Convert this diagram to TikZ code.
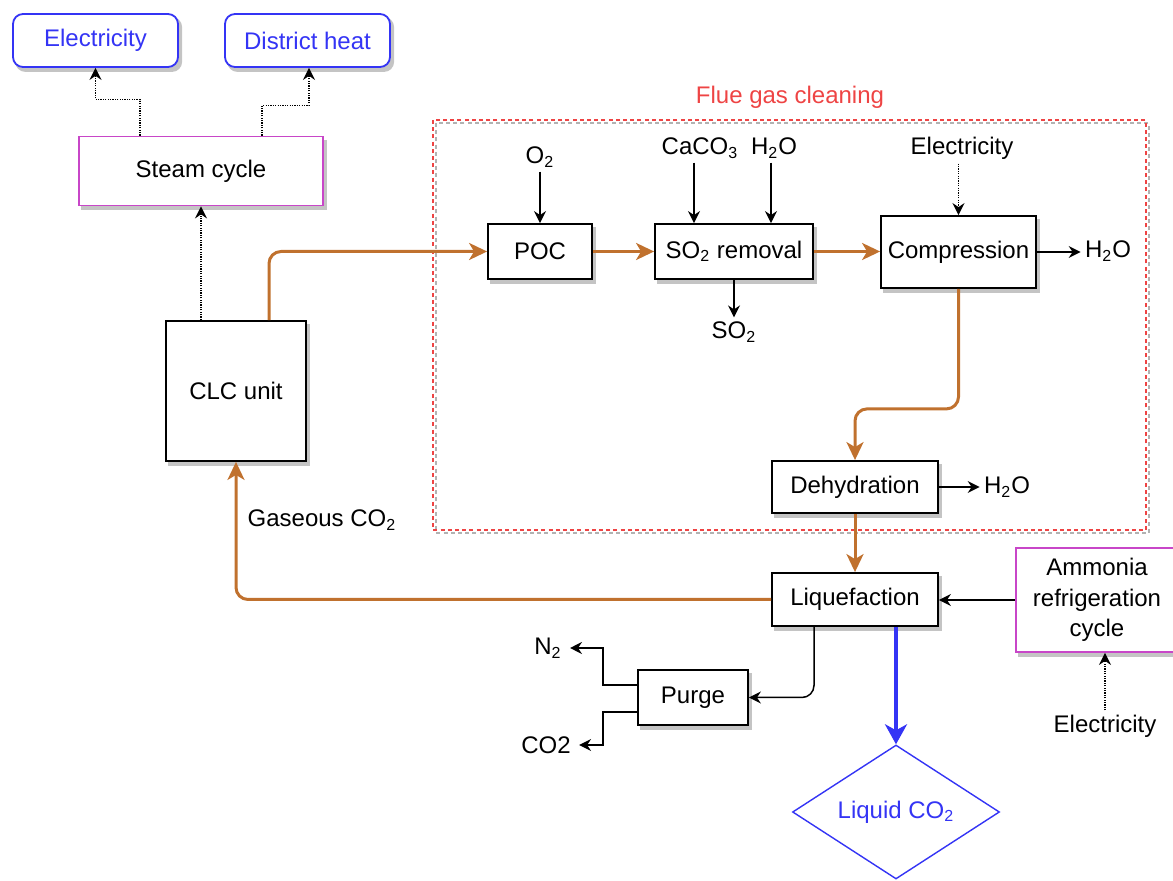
\documentclass[tikz,border=0pt]{standalone}
\usepackage{fontspec}
\setmainfont{Liberation Sans}
\usetikzlibrary{arrows.meta,shapes.geometric,backgrounds}

\definecolor{flowor}{HTML}{C0712E}
\definecolor{prodblue}{HTML}{3434F5}
\definecolor{utilmag}{HTML}{C846C8}
\definecolor{fgred}{HTML}{EE4444}
\definecolor{shadegrey}{HTML}{C4C4C4}

\begin{document}
\begin{tikzpicture}[x=0.5pt,y=-0.5pt,
  font=\fontsize{12}{15.25}\selectfont,
  unit/.style={draw=black,line width=0.9pt,fill=white,inner sep=0pt,align=center},
  utilbox/.style={unit,draw=utilmag},
  prodbox/.style={unit,draw=prodblue,text=prodblue,rounded corners=5pt},
  lbl/.style={inner sep=2pt,align=center},
  flow/.style={draw=flowor,line width=1.5pt,rounded corners=6pt,
    -{Stealth[length=9pt,width=8.5pt,inset=2.5pt]}},
  thin/.style={draw=black,line width=0.75pt,
    -{Stealth[length=6pt,width=6pt,inset=2pt]}},
  util/.style={thin,dash pattern=on 0.6pt off 0.6pt},
  product/.style={draw=prodblue,line width=2.4pt,
    -{Stealth[length=10pt,width=11pt,inset=3pt]}},
  shadowfill/.style={fill=shadegrey,draw=none}
]
\useasboundingbox (0,0) rectangle (1173,881);

% flue gas cleaning frame (grey offset outline under the red one)
\draw[black!30,line width=0.6pt,dash pattern=on 2pt off 1.6pt] (436,123) rectangle (1149,533);
\draw[fgred,line width=0.6pt,dash pattern=on 2pt off 1.6pt] (433,120) rectangle (1146,530);
\node[lbl,text=fgred] (fgc) at (790,97) {Flue gas cleaning};

% energy products
\node[prodbox,minimum width=82.5pt,minimum height=26.5pt] (elecout) at (95.5,40.5) {Electricity};
\node[prodbox,minimum width=82.5pt,minimum height=26.5pt] (heatout) at (307.5,40.5) {District heat};

% process units
\node[utilbox,minimum width=122pt,minimum height=34.5pt] (steam) at (201,171) {Steam cycle};
\node[unit,minimum width=70pt,minimum height=70pt] (clc) at (236,391) {CLC unit};
\node[unit,minimum width=52pt,minimum height=27.5pt] (poc) at (540,251.5) {POC};
\node[unit,minimum width=79pt,minimum height=27.5pt] (so2r) at (734,251.5) {SO\textsubscript{2} removal};
\node[unit,minimum width=77.5pt,minimum height=36pt] (comp) at (958.5,252) {Compression};
\node[unit,minimum width=83pt,minimum height=26pt] (dehy) at (855,487) {Dehydration};
\node[unit,minimum width=83pt,minimum height=26.5pt] (liq) at (855,599.5) {Liquefaction};
\node[unit,minimum width=55pt,minimum height=27.5pt] (purge) at (693,697.5) {Purge};
\node[utilbox,minimum width=81pt,minimum height=52pt] (ammonia) at (1097,600) {Ammonia\\refrigeration\\cycle};
\node[diamond,draw=prodblue,line width=0.7pt,fill=white,text=prodblue,inner sep=0pt,
  shape aspect=1.5,minimum width=103.5pt,minimum height=67pt] (liqco2) at (896,812) {Liquid CO\textsubscript{2}};

% box shadows, offset down and to the right
\begin{scope}[on background layer]
  \foreach \n in {steam,clc,poc,so2r,comp,dehy,liq,purge,ammonia}
    \fill[shadowfill] ([shift={(1.6pt,-2pt)}]\n.south west) rectangle ([shift={(1.6pt,-2pt)}]\n.north east);
  \foreach \n in {elecout,heatout}
    \fill[shadowfill,rounded corners=5pt] ([shift={(1.6pt,-2pt)}]\n.south west) rectangle ([shift={(1.6pt,-2pt)}]\n.north east);
\end{scope}

% stream labels
\node[lbl] (o2in) at (540,157) {O\textsubscript{2}};
\node[lbl] (caco3in) at (700,148) {CaCO\textsubscript{3}};
\node[lbl] (h2oin) at (774,148) {H\textsubscript{2}O};
\node[lbl] (eleccomp) at (962,148) {Electricity};
\node[lbl] (so2out) at (734,332) {SO\textsubscript{2}};
\node[lbl] (h2oa) at (1108,251) {H\textsubscript{2}O};
\node[lbl] (h2ob) at (1007,487) {H\textsubscript{2}O};
\node[lbl] (elecref) at (1105,726) {Electricity};
\node[lbl,inner sep=4pt] (n2out) at (548,648) {N\textsubscript{2}};
\node[lbl,inner sep=4pt] (co2out) at (546,745) {CO2};
\node[lbl] (gasco2) at (322,520) {Gaseous CO\textsubscript{2}};

% steam cycle outputs
\draw[util] ([xshift=-30.5pt]steam.north) -- ++(0,-36) -| (elecout.south);
\draw[util] ([xshift=30.5pt]steam.north) -- ++(0,-30) -| ([xshift=0.75pt]heatout.south);
\draw[util] (steam.south |- clc.north) -- (steam.south);

% main flue gas line
\draw[flow] ([xshift=16.5pt]clc.north) |- (poc.west);
\draw[flow] (poc.east) -- (so2r.west);
\draw[flow] (so2r.east) -- (so2r.east -| comp.west);
\draw[flow] (comp.south) -- ++(0,120) -| (dehy.north);
\draw[flow] (dehy.south) -- (liq.north);
\draw[flow] (liq.west) -| (clc.south);

% side streams
\coordinate (cain) at ([xshift=-20pt]so2r.north);
\coordinate (wain) at ([xshift=18.5pt]so2r.north);
\draw[thin] (o2in.south) -- (poc.north);
\draw[thin] (cain |- caco3in.south) -- (cain);
\draw[thin] (wain |- h2oin.south) -- (wain);
\draw[util] (comp.north |- eleccomp.south) -- (comp.north);
\draw[thin] (so2r.south) -- (so2out.north);
\draw[thin] (comp.east) -- (comp.east -| h2oa.west);
\draw[thin] (dehy.east) -- (dehy.east -| h2ob.west);
\draw[thin] (ammonia.west) -- (ammonia.west -| liq.east);
\draw[util] (elecref.north) -- (elecref.north |- ammonia.south);
\draw[thin,rounded corners=6pt] ([xshift=-20.5pt]liq.south) |- (purge.east);
\draw[thin] ([yshift=6.25pt]purge.west) -- ++(-34,0) |- (n2out.east);
\draw[thin] ([yshift=-7.25pt]purge.west) -- ++(-34,0) |- (co2out.east);
\draw[product] (liqco2.north |- liq.south) -- (liqco2.north);
\end{tikzpicture}
\end{document}
